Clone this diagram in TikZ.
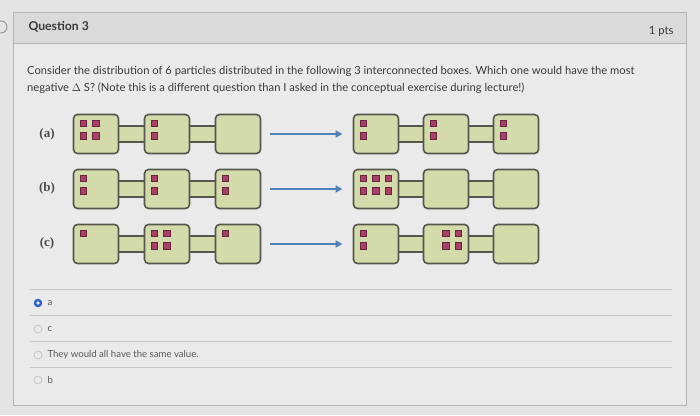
\documentclass[tikz,border=0pt]{standalone}
\usepackage{fontspec}
\setmainfont{Lato}
\newfontfamily\labelfont{Liberation Serif}
\usepackage{xcolor}
\usepackage{tikz}
\usetikzlibrary{arrows.meta,positioning,calc,backgrounds}

\definecolor{pagegray}{HTML}{E4E4E4}
\definecolor{headgray}{HTML}{DADADA}
\definecolor{bodygray}{HTML}{EAEAEA}
\definecolor{framegray}{HTML}{B4B4B4}
\definecolor{boxgreen}{HTML}{D4DBAA}
\definecolor{boxedge}{HTML}{55574E}
\definecolor{dotred}{HTML}{A8406A}
\definecolor{dotedge}{HTML}{6A2442}
\definecolor{flowblue}{HTML}{4F82B8}
\definecolor{radioblue}{HTML}{2E64C8}
\definecolor{inktext}{HTML}{3A3A3A}

\pgfdeclarelayer{panel}
\pgfsetlayers{panel,background,main}

\begin{document}
\begin{tikzpicture}[
    x=1pt, y=1pt,
    node distance=26pt,
    cell/.style={rectangle, draw=boxedge, fill=boxgreen, line width=1.6pt,
        rounded corners=4pt, minimum width=45pt, minimum height=39pt,
        inner sep=0pt, outer sep=0pt},
    bar/.style={draw=boxedge, fill=boxgreen, line width=1.5pt},
    dot/.style={rectangle, draw=dotedge, fill=dotred, line width=0.6pt,
        minimum size=6.5pt, inner sep=0pt},
    flow/.style={-{Triangle[length=7pt,width=7pt]}, line width=2.2pt, color=flowblue,
        shorten <=9pt, shorten >=11pt},
    rowlabel/.style={font=\labelfont\bfseries\fontsize{13}{14}\selectfont, text=black!70},
    option/.style={anchor=west, font=\fontsize{9.6}{11}\selectfont, text=black!65},
    radio/.style={circle, draw=black!25, line width=0.6pt, minimum size=8pt, inner sep=0pt}
]
    \useasboundingbox (0,0) rectangle (700,-415);

    % page and question panel
    \begin{pgfonlayer}{panel}
        \fill[pagegray] (0,0) rectangle (700,-415);
        \draw[black!45, line width=0.8pt] (1,-27) circle (6);
        \fill[bodygray] (13,-12) rectangle (686,-405);
        \fill[headgray] (13,-12) rectangle (686,-43);
        \draw[framegray, line width=0.8pt] (13,-12) rectangle (686,-405);
        \draw[framegray, line width=0.8pt] (13,-43) -- (686,-43);
        \foreach \y in {289,315,341,367}
            \draw[black!22, line width=0.7pt] (30,-\y) -- (672,-\y);
    \end{pgfonlayer}

    \node[anchor=west, font=\bfseries\fontsize{12.2}{14}\selectfont, text=inktext] (qtitle) at (25,-27) {Question 3};
    \node[anchor=east, font=\fontsize{11.3}{13}\selectfont, text=inktext] (qpts) at (677,-31) {1 pts};
    \node[anchor=north west, align=left, inner sep=0pt, text=inktext,
        font=\fontsize{11.2}{17}\selectfont] (qtext) at (27,-66)
        {Consider the distribution of 6 particles distributed in the following 3 interconnected boxes. Which one would have the most\\
         negative $\Delta$ S? (Note this is a different question than I asked in the conceptual exercise during lecture!)};

    % row (a)
    \node[rowlabel] (la) at (47,-134) {(a)};
    \node[cell] (a1) at (96,-134) {};
    \node[cell, right=of a1] (a2) {};
    \node[cell, right=of a2] (a3) {};
    \node[cell, right=93pt of a3] (a4) {};
    \node[cell, right=25pt of a4] (a5) {};
    \node[cell, right=25pt of a5] (a6) {};
    \draw[flow] (a3) -- (a4);

    % row (b)
    \node[rowlabel] (lb) at (47,-188) {(b)};
    \node[cell] (b1) at (96,-189) {};
    \node[cell, right=of b1] (b2) {};
    \node[cell, right=of b2] (b3) {};
    \node[cell, right=93pt of b3] (b4) {};
    \node[cell, right=25pt of b4] (b5) {};
    \node[cell, right=25pt of b5] (b6) {};
    \draw[flow] (b3) -- (b4);

    % row (c)
    \node[rowlabel] (lc) at (47,-243) {(c)};
    \node[cell] (c1) at (96,-244) {};
    \node[cell, right=of c1] (c2) {};
    \node[cell, right=of c2] (c3) {};
    \node[cell, right=93pt of c3] (c4) {};
    \node[cell, right=25pt of c4] (c5) {};
    \node[cell, right=25pt of c5] (c6) {};
    \draw[flow] (c3) -- (c4);

    % connecting tubes
    \begin{scope}[on background layer]
        \foreach \r in {a,b,c} {
            \draw[bar] ($(\r1.center)+(0,8)$) rectangle ($(\r2.center)+(0,-8)$);
            \draw[bar] ($(\r2.center)+(0,8)$) rectangle ($(\r3.center)+(0,-8)$);
            \draw[bar] ($(\r4.center)+(0,8)$) rectangle ($(\r5.center)+(0,-8)$);
            \draw[bar] ($(\r5.center)+(0,8)$) rectangle ($(\r6.center)+(0,-8)$);
        }
    \end{scope}

    % particles
    \foreach \b/\i/\j in {a1/0/0, a1/1/0, a1/0/1, a1/1/1, a2/0/0, a2/0/1,
                          a4/0/0, a4/0/1, a5/0/0, a5/0/1, a6/0/0, a6/0/1,
                          b1/0/0, b1/0/1, b2/0/0, b2/0/1, b3/0/0, b3/0/1,
                          b4/0/0, b4/1/0, b4/2/0, b4/0/1, b4/1/1, b4/2/1,
                          c1/0/0, c2/0/0, c2/1/0, c2/0/1, c2/1/1, c3/0/0,
                          c4/0/0, c4/0/1, c5/1/0, c5/2/0, c5/1/1, c5/2/1}
        \node[dot] at ($(\b.north west)+(10+12.5*\i,-9-12.5*\j)$) {};

    % answer choices
    \node[radio, draw=radioblue, line width=2.4pt, minimum size=6pt] (ra) at (38,-303) {};
    \node[option] (oa) at (44,-303) {a};
    \node[radio] (rc) at (38,-329) {};
    \node[option] (oc) at (44,-329) {c};
    \node[radio] (rs) at (38,-355) {};
    \node[option] (os) at (44,-355) {They would all have the same value.};
    \node[radio] (rb) at (38,-380) {};
    \node[option] (ob) at (44,-380) {b};
\end{tikzpicture}
\end{document}
